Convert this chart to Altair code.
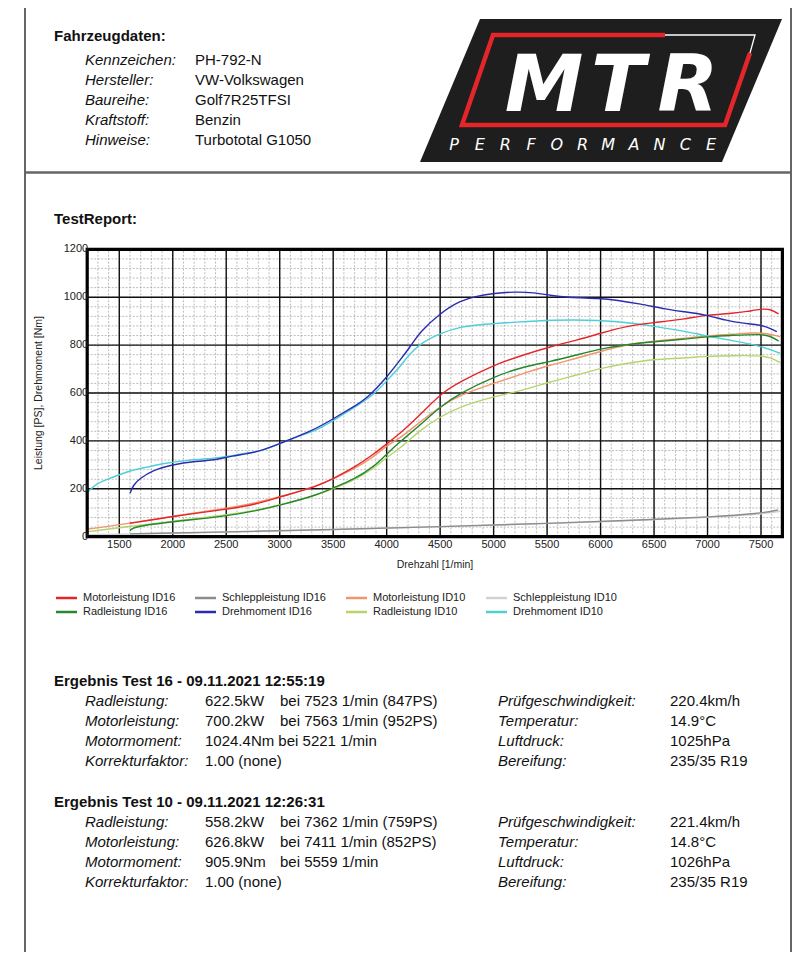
import altair as alt
import pandas as pd

# ---------------- data ----------------
series_names = ["Motorleistung ID16", "Schleppleistung ID16", "Motorleistung ID10", "Schleppleistung ID10",
                "Radleistung ID16", "Drehmoment ID16", "Radleistung ID10", "Drehmoment ID10"]
series_colors = {
    "Motorleistung ID16": "#e4262b",
    "Radleistung ID16": "#24882c",
    "Schleppleistung ID16": "#8c8c8c",
    "Drehmoment ID16": "#2b2bb0",
    "Motorleistung ID10": "#f3946b",
    "Radleistung ID10": "#b6d46c",
    "Schleppleistung ID10": "#d2d2d2",
    "Drehmoment ID10": "#4dcfd6",
}

motor16_rpm = [1600, 2006, 2506, 2787, 3006, 3350, 3506, 3694, 3881, 4006, 4126, 4313, 4500, 4687, 5000, 5279,
               5529, 5778, 5996, 6246, 6495, 6775, 6994, 7243, 7368, 7501, 7586, 7664]
motor16_val = [56, 86, 114, 136, 167, 209, 244, 288, 345, 390, 431, 508, 596, 647, 717, 759,
               793, 821, 849, 880, 894, 908, 926, 933, 940, 951, 951, 930]

rad16_rpm = [1600, 1631, 2006, 2506, 2787, 3006, 3350, 3506, 3694, 3881, 4006, 4126, 4313, 4500, 4687, 5000,
             5279, 5529, 5778, 5996, 6246, 6495, 6775, 6994, 7243, 7501, 7586, 7664]
rad16_val = [25, 42, 63, 86, 109, 132, 174, 205, 239, 292, 348, 397, 466, 543, 599, 668,
             710, 731, 759, 784, 803, 814, 824, 835, 841, 846, 838, 817]

moment16_rpm = [1600, 1631, 1694, 1819, 1975, 2225, 2412, 2537, 2787, 3006, 3319, 3506, 3694, 3819, 4006, 4126,
                4225, 4313, 4500, 4687, 4843, 5000, 5217, 5373, 5529, 5684, 5996, 6152, 6370, 6620, 6775,
                6994, 7180, 7336, 7501, 7586, 7648]
moment16_val = [181, 216, 244, 278, 299, 316, 320, 337, 351, 390, 445, 494, 543, 578, 668, 738,
                796, 856, 933, 986, 1005, 1016, 1023, 1019, 1008, 999, 995, 988, 972, 949, 940,
                926, 902, 891, 884, 870, 856]

schlepp16_rpm = [1600, 2500, 3500, 4500, 5500, 6500, 7000, 7500, 7660]
schlepp16_val = [12, 20, 30, 42, 55, 72, 82, 97, 112]

motor10_rpm = [1209, 1500, 2006, 2506, 2787, 3006, 3350, 3694, 3881, 4006, 4126, 4313, 4500, 4687, 5000, 5279,
               5529, 5778, 5996, 6246, 6495, 6775, 6994, 7243, 7430, 7555, 7679]
motor10_val = [32, 49, 86, 118, 142, 167, 209, 281, 334, 383, 411, 480, 543, 592, 640, 682,
               717, 745, 773, 803, 817, 828, 839, 845, 852, 849, 835]

rad10_rpm = [1209, 1500, 2006, 2506, 2787, 3006, 3350, 3694, 3881, 4006, 4126, 4313, 4500, 4687, 5000, 5279,
             5529, 5778, 5996, 6246, 6495, 6775, 6994, 7243, 7492, 7586, 7679]
rad10_val = [21, 38, 65, 90, 111, 132, 174, 234, 285, 334, 369, 445, 501, 543, 585, 612,
             647, 675, 703, 724, 741, 745, 754, 756, 756, 749, 727]

moment10_rpm = [1209, 1287, 1412, 1500, 1600, 1756, 1912, 2131, 2381, 2506, 2694, 2819, 3006, 3162, 3350, 3506,
                3662, 3881, 4006, 4126, 4194, 4313, 4500, 4687, 4905, 5217, 5529, 5996, 6308, 6526, 6775,
                6994, 7243, 7501, 7679]
moment10_val = [188, 223, 244, 258, 276, 290, 306, 320, 327, 334, 351, 355, 390, 418, 445, 487,
                529, 592, 654, 710, 752, 807, 849, 877, 887, 896, 905, 905, 891, 877, 859,
                838, 818, 796, 766]

schlepp10_rpm = [1209, 2000, 3000, 4000, 5000, 6000, 7000, 7500, 7680]
schlepp10_val = [8, 14, 24, 36, 48, 62, 80, 94, 106]

curves = [  # drawing order
    ("Schleppleistung ID10", schlepp10_rpm, schlepp10_val),
    ("Schleppleistung ID16", schlepp16_rpm, schlepp16_val),
    ("Radleistung ID10", rad10_rpm, rad10_val),
    ("Motorleistung ID10", motor10_rpm, motor10_val),
    ("Drehmoment ID10", moment10_rpm, moment10_val),
    ("Radleistung ID16", rad16_rpm, rad16_val),
    ("Motorleistung ID16", motor16_rpm, motor16_val),
    ("Drehmoment ID16", moment16_rpm, moment16_val),
]

x_ticks = [1500, 2000, 2500, 3000, 3500, 4000, 4500, 5000, 5500, 6000, 6500, 7000, 7500]
y_ticks = [0, 200, 400, 600, 800, 1000, 1200]
x_minor = list(range(1200, 7701, 100))
y_minor = list(range(0, 1201, 40))

header_title = "Fahrzeugdaten:"
header_labels = ["Kennzeichen:", "Hersteller:", "Baureihe:", "Kraftstoff:", "Hinweise:"]
header_values = ["PH-792-N", "VW-Volkswagen", "Golf7R25TFSI", "Benzin", "Turbototal G1050"]
report_title = "TestReport:"
x_title = "Drehzahl [1/min]"
y_title = "Leistung [PS], Drehmoment [Nm]"

res_labels_left = ["Radleistung:", "Motorleistung:", "Motormoment:", "Korrekturfaktor:"]
res_labels_right = ["Prüfgeschwindigkeit:", "Temperatur:", "Luftdruck:", "Bereifung:"]
tests = [
    {"title": "Ergebnis Test 16 - 09.11.2021 12:55:19",
     "vals": ["622.5kW", "700.2kW", "1024.4Nm bei 5221 1/min", "1.00 (none)"],
     "bei": ["bei 7523 1/min (847PS)", "bei 7563 1/min (952PS)", "", ""],
     "right": ["220.4km/h", "14.9°C", "1025hPa", "235/35 R19"]},
    {"title": "Ergebnis Test 10 - 09.11.2021 12:26:31",
     "vals": ["558.2kW", "626.8kW", "905.9Nm", "1.00 (none)"],
     "bei": ["bei 7362 1/min (759PS)", "bei 7411 1/min (852PS)", "bei 5559 1/min", ""],
     "right": ["221.4km/h", "14.8°C", "1026hPa", "235/35 R19"]},
]

logo_word = "MTR"
logo_sub = "PERFORMANCE"

# ---------------- layout ----------------
W, H = 792, 944
PX0, PX1 = 79.2, 774.4
PY0, PY1 = 528.7, 241.3
FONT = "Liberation Sans"

xs = alt.Scale(domain=[1200, 7700], range=[PX0, PX1], nice=False, zero=False)
ys = alt.Scale(domain=[0, 1200], range=[PY0, PY1], nice=False, zero=False)
one = pd.DataFrame({"a": [0]})


def txt(t, x, y, size=15, weight="normal", style="normal", align="left", color="#111111",
        angle=0, font=FONT):
    return alt.Chart(pd.DataFrame({"t": [t]})).mark_text(
        align=align, baseline="middle", font=font, fontSize=size, fontWeight=weight,
        fontStyle=style, color=color, angle=angle
    ).encode(x=alt.value(x), y=alt.value(y), text="t:N")


def hrule(x1, x2, y, color, width):
    return alt.Chart(one).mark_rule(color=color, strokeWidth=width).encode(
        x=alt.value(x1), x2=alt.value(x2), y=alt.value(y))


def vrule(x, y1, y2, color, width):
    return alt.Chart(one).mark_rule(color=color, strokeWidth=width).encode(
        x=alt.value(x), y=alt.value(y1), y2=alt.value(y2))


layers = []

# page frame
layers.append(vrule(17, 0, H, "#666666", 2))
layers.append(vrule(783, 0, H, "#666666", 2))
layers.append(hrule(17, 783, 164.5, "#666666", 2.5))

# logo
proj = dict(type="identity", scale=1, translate=[0, 0])
poly = {"type": "Feature", "properties": {},
        "geometry": {"type": "Polygon",
                     "coordinates": [[[472, 11], [774, 11], [714, 154], [412, 154], [472, 11]]]}}
red_frame = {"type": "Feature", "properties": {},
             "geometry": {"type": "LineString",
                          "coordinates": [[657, 27], [485, 27], [454, 117], [717, 117], [742, 45]]}}
white_frame = {"type": "Feature", "properties": {},
               "geometry": {"type": "LineString",
                            "coordinates": [[657, 27], [747, 27], [742, 45]]}}
layers.append(alt.Chart(alt.Data(values=[poly])).mark_geoshape(
    fill="#1e1e1e", strokeWidth=0).project(**proj))
layers.append(alt.Chart(alt.Data(values=[red_frame])).mark_geoshape(
    filled=False, stroke="#e4262b", strokeWidth=4.5).project(**proj))
layers.append(alt.Chart(alt.Data(values=[white_frame])).mark_geoshape(
    filled=False, stroke="#ffffff", strokeWidth=1.3).project(**proj))
for i, ch in enumerate(logo_word):
    layers.append(alt.Chart(pd.DataFrame({"t": [ch]})).mark_text(
        align="center", baseline="alphabetic", font="DejaVu Sans", fontSize=79,
        fontWeight="bold", fontStyle="italic", color="#ffffff"
    ).encode(x=alt.value([536, 610, 680][i]), y=alt.value(103), text="t:N"))
for i, ch in enumerate(logo_sub):
    layers.append(txt(ch, 446 + 25.7 * i, 137, size=16, style="italic", align="center",
                      color="#ffffff", font="DejaVu Sans"))

# header texts
layers.append(txt(header_title, 46, 28, size=15, weight="bold"))
for i, (lab, val) in enumerate(zip(header_labels, header_values)):
    layers.append(txt(lab, 77, 52 + 20 * i, style="italic"))
    layers.append(txt(val, 187, 52 + 20 * i))
layers.append(txt(report_title, 46, 211, size=15, weight="bold"))

# grid
layers.append(alt.Chart(pd.DataFrame({"v": x_minor})).mark_rule(
    color="#a0a0a0", strokeWidth=0.7, strokeDash=[2, 1.5]).encode(
    x=alt.X("v:Q", scale=xs, axis=None),
    y=alt.YDatum(0, type="quantitative", scale=ys, axis=None), y2=alt.Y2Datum(1200)))
layers.append(alt.Chart(pd.DataFrame({"v": y_minor})).mark_rule(
    color="#a0a0a0", strokeWidth=0.7, strokeDash=[2, 1.5]).encode(
    y=alt.Y("v:Q", scale=ys, axis=None),
    x=alt.XDatum(1200, type="quantitative", scale=xs, axis=None), x2=alt.X2Datum(7700)))
layers.append(alt.Chart(pd.DataFrame({"v": x_ticks})).mark_rule(
    color="#111111", strokeWidth=1.4).encode(
    x=alt.X("v:Q", scale=xs, axis=None),
    y=alt.YDatum(0, type="quantitative", scale=ys, axis=None), y2=alt.Y2Datum(1200)))
layers.append(alt.Chart(pd.DataFrame({"v": y_ticks})).mark_rule(
    color="#111111", strokeWidth=1.4).encode(
    y=alt.Y("v:Q", scale=ys, axis=None),
    x=alt.XDatum(1200, type="quantitative", scale=xs, axis=None), x2=alt.X2Datum(7700)))

# curves
for name, rpm, val in curves:
    df = pd.DataFrame({"rpm": rpm, "val": val})
    layers.append(alt.Chart(df).mark_line(
        color=series_colors[name], strokeWidth=1.4, interpolate="basis").encode(
        x=alt.X("rpm:Q", scale=xs, axis=None), y=alt.Y("val:Q", scale=ys, axis=None)))

# frame
layers.append(alt.Chart(one).mark_rect(filled=False, stroke="#000000", strokeWidth=3.2).encode(
    x=alt.XDatum(1200, type="quantitative", scale=xs, axis=None), x2=alt.X2Datum(7700),
    y=alt.YDatum(0, type="quantitative", scale=ys, axis=None), y2=alt.Y2Datum(1200)))

# tick labels
layers.append(alt.Chart(pd.DataFrame({"v": y_ticks})).mark_text(
    align="right", baseline="middle", font=FONT, fontSize=11, color="#222222").encode(
    y=alt.Y("v:Q", scale=ys, axis=None), x=alt.value(PX0 + 1), text="v:Q"))
layers.append(alt.Chart(pd.DataFrame({"v": x_ticks})).mark_text(
    align="center", baseline="middle", font=FONT, fontSize=11, color="#222222").encode(
    x=alt.X("v:Q", scale=xs, axis=None), y=alt.value(537), text="v:Q"))
layers.append(txt(x_title, 427, 557, size=10.5, align="center", color="#222222"))
layers.append(txt(y_title, 31, 385, size=10.5, align="center", color="#222222", angle=270))

# legend
col_x = [48, 187, 338, 478]
row_y = [590, 604]
for k, name in enumerate(series_names):
    r, c = divmod(k, 4)
    layers.append(hrule(col_x[c], col_x[c] + 21, row_y[r], series_colors[name], 2.5))
    layers.append(txt(name, col_x[c] + 27, row_y[r], size=11, color="#222222"))

# results
for t, block in enumerate(tests):
    y0 = 673 + 121 * t
    layers.append(txt(block["title"], 46, y0, size=15, weight="bold"))
    for i in range(4):
        yy = y0 + 20 * (i + 1)
        layers.append(txt(res_labels_left[i], 77, yy, style="italic"))
        layers.append(txt(block["vals"][i], 197, yy))
        if block["bei"][i]:
            layers.append(txt(block["bei"][i], 272, yy))
        layers.append(txt(res_labels_right[i], 490, yy, style="italic"))
        layers.append(txt(block["right"][i], 662, yy))

chart = alt.layer(*layers).properties(
    width=W, height=H, padding=0, autosize="none", background="#ffffff"
).configure_view(strokeWidth=0)

chart.save("out.html", embed_options={"renderer": "svg", "actions": False})
